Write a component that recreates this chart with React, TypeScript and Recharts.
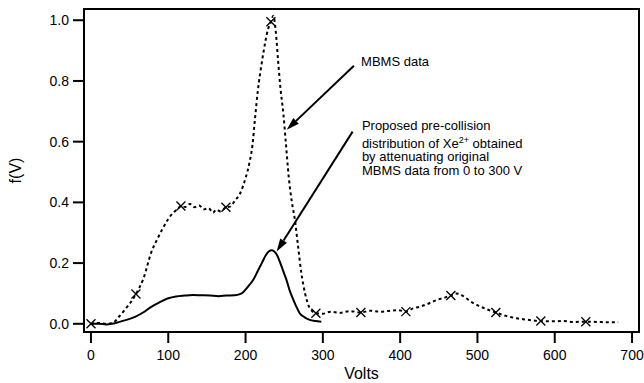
import { ComposedChart, Line, Scatter, XAxis, YAxis, ReferenceLine, ReferenceDot, ReferenceArea } from "recharts";

// MBMS measurement (dashed)
const mbmsVolts = [
	0, 10, 20, 30, 35, 45, 58.2, 68, 78, 86, 92, 100, 106, 112, 116.4, 122, 128, 134, 140, 146, 152, 158, 162, 168,
	174.6, 180, 186, 193, 200, 205, 209, 212, 216, 221, 226, 229, 232.8, 236, 239, 242, 245, 249, 252, 256, 260, 264,
	268, 272, 277, 283, 291, 300, 310, 322, 335, 349.2, 361, 375, 387, 398, 407.4, 416, 425, 435, 447, 456, 465.6,
	472, 477, 485, 492, 499, 510, 523.8, 537, 551, 563, 575, 582, 595, 611, 625, 640.2, 655, 670, 682,
];
const mbmsValues = [
	0.0, 0.003, 0.0, 0.006, 0.02, 0.05, 0.098, 0.15, 0.235, 0.28, 0.31, 0.345, 0.365, 0.378, 0.388, 0.385, 0.395,
	0.384, 0.39, 0.377, 0.381, 0.366, 0.376, 0.37, 0.384, 0.386, 0.405, 0.43, 0.48, 0.53, 0.59, 0.67, 0.77, 0.86,
	0.935, 0.97, 0.995, 1.015, 0.965, 0.87, 0.78, 0.69, 0.6, 0.48, 0.4, 0.34, 0.254, 0.17, 0.1, 0.052, 0.035, 0.033,
	0.04, 0.036, 0.042, 0.037, 0.043, 0.04, 0.043, 0.045, 0.04, 0.05, 0.056, 0.065, 0.078, 0.085, 0.093, 0.1, 0.098,
	0.085, 0.072, 0.062, 0.05, 0.037, 0.026, 0.018, 0.014, 0.01, 0.009, 0.008, 0.009, 0.006, 0.007, 0.006, 0.005,
	0.005,
];

// every few samples of the MBMS trace is flagged with a cross
const markerVolts = [0, 58.2, 116.4, 174.6, 232.8, 291, 349.2, 407.4, 465.6, 523.8, 582, 640.2];
const markerValues = [0.0, 0.098, 0.388, 0.384, 0.995, 0.035, 0.037, 0.04, 0.093, 0.037, 0.009, 0.007];

// attenuated pre-collision distribution (solid)
const proposedVolts = [
	0, 10, 20, 27, 35, 45, 57, 68, 78, 88, 100, 110, 121, 132, 143, 154, 165, 175, 186, 195, 203, 210, 216, 221, 226,
	230, 234, 238, 241, 245, 249, 253, 257, 262, 266, 270, 276, 283, 290, 298,
];
const proposedValues = [
	0.0, 0.0, -0.002, 0.0, 0.005, 0.012, 0.023, 0.038, 0.056, 0.07, 0.084, 0.09, 0.093, 0.095, 0.094, 0.093, 0.091,
	0.093, 0.094, 0.1, 0.122, 0.145, 0.175, 0.2, 0.225, 0.238, 0.242, 0.236, 0.225, 0.2, 0.172, 0.144, 0.11, 0.078,
	0.055, 0.035, 0.022, 0.013, 0.009, 0.007,
];

const xTicks = [0, 100, 200, 300, 400, 500, 600, 700];
const yTicks = [0, 0.2, 0.4, 0.6, 0.8, 1.0];
const xDomain = [-9, 709];
const yDomain = [-0.027, 1.037];

const mbmsData = mbmsVolts.map((v, i) => ({ v, f: mbmsValues[i] }));
const markerData = markerVolts.map((v, i) => ({ v, f: markerValues[i] }));
const proposedData = proposedVolts.map((v, i) => ({ v, f: proposedValues[i] }));

const FONT = '"Liberation Sans", Arial, Helvetica, sans-serif';

const Cross = (props: any) => {
	const { cx, cy } = props;
	const s = 4.5;
	return (
		<g stroke="#000" strokeWidth={1.3}>
			<line x1={cx - s} y1={cy - s} x2={cx + s} y2={cy + s} />
			<line x1={cx - s} y1={cy + s} x2={cx + s} y2={cy - s} />
		</g>
	);
};

// straight leader line ending in a filled arrow head
const Arrow = (props: any) => {
	const { x1, y1, x2, y2 } = props;
	const ang = Math.atan2(y2 - y1, x2 - x1);
	const len = 13;
	const half = 4;
	const bx = x2 - len * Math.cos(ang);
	const by = y2 - len * Math.sin(ang);
	const px = -Math.sin(ang) * half;
	const py = Math.cos(ang) * half;
	return (
		<g>
			<line x1={x1} y1={y1} x2={bx} y2={by} stroke="#000" strokeWidth={2} />
			<polygon points={`${x2},${y2} ${bx + px},${by + py} ${bx - px},${by - py}`} fill="#000" />
		</g>
	);
};

const mbmsLabel = (props: any) => {
	const { x, y } = props.viewBox;
	return (
		<text x={x} y={y} fontSize={13} fontFamily={FONT} fill="#000">
			MBMS data
		</text>
	);
};

const proposedLabel = (props: any) => {
	const { x, y } = props.viewBox;
	return (
		<text x={x} y={y} fontSize={13} fontFamily={FONT} fill="#000">
			<tspan x={x} y={y}>Proposed pre-collision</tspan>
			<tspan x={x} y={y + 18}>distribution of Xe</tspan>
			<tspan dy={-5} fontSize={9}>2+</tspan>
			<tspan dy={5}> obtained</tspan>
			<tspan x={x} y={y + 31.5}>by attenuating original</tspan>
			<tspan x={x} y={y + 45.5}>MBMS data from 0 to 300 V</tspan>
		</text>
	);
};

const yLabel = (props: any) => {
	const { x, y, height } = props.viewBox;
	const cx = x + 15;
	const cy = y + height / 2;
	return (
		<text
			x={cx}
			y={cy}
			transform={`rotate(-90, ${cx}, ${cy})`}
			textAnchor="middle"
			dominantBaseline="central"
			fontSize={16}
			fontFamily={FONT}
			fill="#000"
		>
			f(V)
		</text>
	);
};

const tickStyle = { fontSize: 14, fontFamily: FONT, fill: "#000" };
const axisLine = { stroke: "#000", strokeWidth: 2 };

const App = () => {
	return (
		<div style={{ position: "absolute", left: 0, top: 0, width: 644, height: 383, background: "#fff" }}>
			<ComposedChart width={644} height={383} margin={{ top: 9, right: 5, left: 0, bottom: 0 }}>
				<XAxis
					dataKey="v"
					type="number"
					domain={xDomain}
					ticks={xTicks}
					allowDataOverflow
					height={51}
					tickSize={11}
					tickMargin={7}
					tick={tickStyle}
					axisLine={axisLine}
					tickLine={axisLine}
					label={{ value: "Volts", position: "insideBottom", offset: 4, fontSize: 16, fontFamily: FONT, fill: "#000" }}
				/>
				<YAxis
					type="number"
					domain={yDomain}
					ticks={yTicks}
					allowDataOverflow
					width={84}
					tickSize={11}
					tickMargin={4}
					tick={tickStyle}
					tickFormatter={(t: number) => t.toFixed(1)}
					axisLine={axisLine}
					tickLine={axisLine}
					label={yLabel}
				/>
				{/* box round the plot area */}
				<ReferenceArea
					x1={xDomain[0]}
					x2={xDomain[1]}
					y1={yDomain[0]}
					y2={yDomain[1]}
					fill="none"
					fillOpacity={0}
					stroke="#000"
					strokeWidth={2}
					strokeOpacity={1}
				/>
				<Line
					data={mbmsData}
					dataKey="f"
					type="monotone"
					stroke="#000"
					strokeWidth={2}
					strokeDasharray="3 3"
					dot={false}
					isAnimationActive={false}
				/>
				<Line
					data={proposedData}
					dataKey="f"
					type="monotone"
					stroke="#000"
					strokeWidth={2}
					dot={false}
					isAnimationActive={false}
				/>
				<Scatter data={markerData} dataKey="f" shape={Cross} isAnimationActive={false} />
				<ReferenceLine
					segment={[
						{ x: 340.2, y: 0.85 },
						{ x: 253.2, y: 0.639 },
					]}
					shape={Arrow}
				/>
				<ReferenceLine
					segment={[
						{ x: 338.5, y: 0.633 },
						{ x: 240.2, y: 0.238 },
					]}
					shape={Arrow}
				/>
				<ReferenceDot x={349.5} y={0.85} r={0} fill="none" stroke="none" label={mbmsLabel} />
				<ReferenceDot x={350.5} y={0.64} r={0} fill="none" stroke="none" label={proposedLabel} />
			</ComposedChart>
		</div>
	);
};

export default App;
